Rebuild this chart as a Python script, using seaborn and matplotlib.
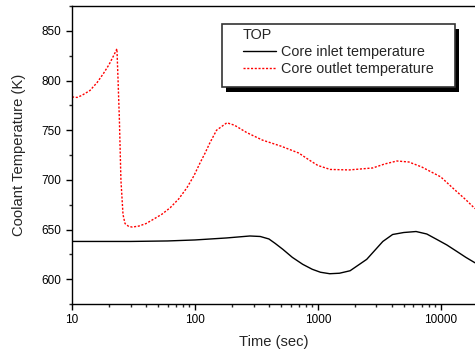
import pandas as pd
import matplotlib
matplotlib.use("Agg")
import matplotlib.pyplot as plt
import seaborn as sns
from matplotlib.patches import Rectangle
from matplotlib.ticker import MultipleLocator, LogLocator, NullFormatter

# Core outlet temperature (red, dotted)
t_out = [10, 11, 12, 14, 16, 18, 20, 22, 23.2, 23.7, 24.3, 25, 26, 27, 29, 31, 35, 40, 45.5,
         54, 63, 74, 86, 98, 110, 121, 132, 150, 182, 210, 265, 355, 500, 700, 850, 1000, 1260,
         1800, 2800, 3500, 4400, 5500, 7000, 10000, 13000, 16000, 19000]
temp_out = [783.5, 783, 785, 790, 798, 807, 816, 826, 832, 800, 760, 700, 665, 656, 653, 652.5,
            653.5, 656, 660, 665.5, 672, 681, 692, 704, 717, 727, 737, 750, 757.5, 755, 747.5,
            740, 734, 727, 720, 714.5, 710.5, 710, 712, 716, 719, 718, 713, 703, 690, 680, 671]

# Core inlet temperature (black, solid)
t_in = [10, 30, 60, 100, 180, 280, 340, 400, 450, 520, 620, 753, 900, 1050, 1250, 1500, 1830,
        2500, 3380, 4060, 5000, 6300, 7700, 9300, 11200, 13500, 16000, 19000]
temp_in = [638, 638, 638.5, 639.5, 641.5, 643.5, 643, 640.5, 636, 630, 622, 615, 610, 607,
           605.5, 606, 608.5, 620, 638, 645, 647, 648, 645.5, 640, 634.5, 628, 622, 616.5]

df_in = pd.DataFrame({"t": t_in, "T": temp_in})
df_out = pd.DataFrame({"t": t_out, "T": temp_out})

sns.set_style("ticks")
plt.rcParams["font.family"] = ["Liberation Sans", "DejaVu Sans"]

fig = plt.figure(figsize=(4.75, 3.56), dpi=100)
ax = fig.add_axes([0.1516, 0.146, 0.8484, 0.837])

sns.lineplot(data=df_in, x="t", y="T", ax=ax, color="black", lw=1.0, sort=False,
             label="Core inlet temperature")
sns.lineplot(data=df_out, x="t", y="T", ax=ax, color="red", lw=1.0, sort=False,
             linestyle=(0, (1.5, 1.2)), label="Core outlet temperature")

ax.set_xscale("log")
ax.set_xlim(10, 19000)
ax.set_ylim(575, 875)
ax.yaxis.set_major_locator(MultipleLocator(50))
ax.yaxis.set_minor_locator(MultipleLocator(25))
ax.xaxis.set_minor_locator(LogLocator(base=10, subs=range(2, 10)))
ax.xaxis.set_minor_formatter(NullFormatter())
ax.set_xticks([10, 100, 1000, 10000])
ax.set_xticklabels(["10", "100", "1000", "10000"])

ax.tick_params(which="major", direction="out", length=4, width=1, labelsize=8.5, colors="black")
ax.tick_params(which="minor", direction="out", length=2.5, width=1)
for s in ax.spines.values():
    s.set_linewidth(1.0)
    s.set_color("black")
ax.spines["right"].set_visible(False)

ax.set_xlabel("Time (sec)", fontsize=10.6, labelpad=6)
ax.set_ylabel("Coolant Temperature (K)", fontsize=10.6, labelpad=11)

# legend frame with solid black drop shadow
ax.add_patch(Rectangle((0.382, 0.711), 0.578, 0.212, transform=ax.transAxes,
                       facecolor="black", edgecolor="none", zorder=4, clip_on=False))
ax.add_patch(Rectangle((0.372, 0.728), 0.578, 0.212, transform=ax.transAxes,
                       facecolor="white", edgecolor="#333333", lw=1.2, zorder=5, clip_on=False))

leg = ax.legend(title="TOP", loc="upper left", bbox_to_anchor=(0.424, 0.925),
                fontsize=10.4, title_fontsize=10.4, frameon=False,
                handlelength=2.3, handletextpad=0.35, borderpad=0, borderaxespad=0,
                labelspacing=0.2)
leg._legend_box.align = "left"
leg.set_zorder(6)

fig.savefig("out.png", dpi=100)
